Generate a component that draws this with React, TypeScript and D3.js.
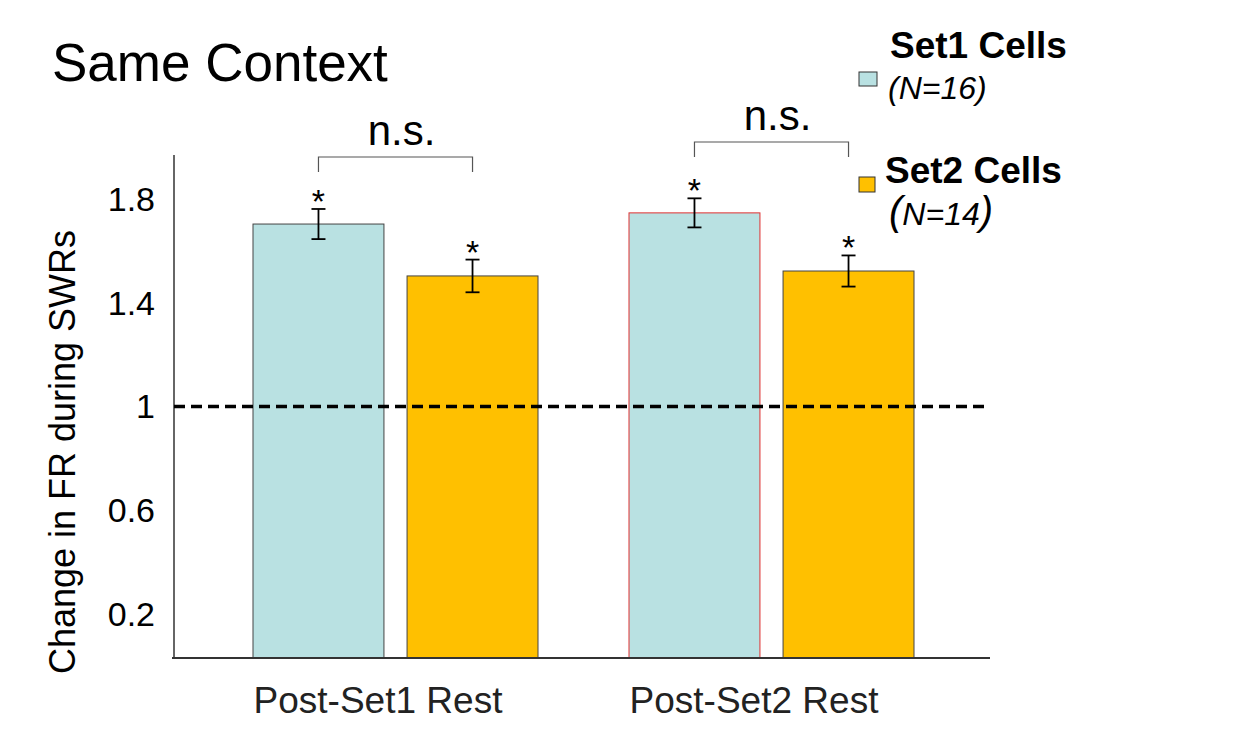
import React from "react";
import * as d3 from "d3";

const groups = ["Post-Set1 Rest", "Post-Set2 Rest"];
const series = ["Set1 Cells", "Set2 Cells"];
const seriesN = ["N=16", "N=14"];
const means = [
  [1.703, 1.503],
  [1.746, 1.522],
];
const sems = [
  [0.058, 0.063],
  [0.056, 0.06],
];
const yTicks = [0.2, 0.6, 1, 1.4, 1.8];
const colors = ["#b9e1e2", "#ffc000"];
const refLine = 1;

const W = 1249;
const H = 745;

export default function App() {
  const y = d3.scaleLinear().domain([0, 1.969]).range([666, 155]);
  const yBottom = 658;
  const x0 = d3.scaleBand<string>().domain(groups).range([207, 959]).padding(0);
  const x1 = d3
    .scaleBand<string>()
    .domain(series)
    .range([46, 331])
    .paddingInner(0.15)
    .paddingOuter(0);
  const font = "'Liberation Sans', Arial, sans-serif";
  const axisLeft = 174;
  const axisRight = 990;
  const bracketY = [157, 142];

  return (
    <svg width={W} height={H} style={{ position: "absolute", left: 0, top: 0 }} fontFamily={font}>
      <rect width={W} height={H} fill="#fff" />
      <text x={52} y={81} fontSize={53} fill="#000">Same Context</text>

      {/* axes */}
      <line x1={axisLeft} x2={axisLeft} y1={155} y2={yBottom} stroke="#333" strokeWidth={1.5} />
      {yTicks.map((t) => (
        <text key={t} x={155} y={y(t) + 12} textAnchor="end" fontSize={34}>
          {d3.format("")(t)}
        </text>
      ))}
      <text
        transform={`translate(75, 452) rotate(-90)`}
        textAnchor="middle"
        fontSize={36}
      >
        Change in FR during SWRs
      </text>

      {/* bars */}
      {groups.map((g, gi) => (
        <g key={g} transform={`translate(${x0(g)},0)`}>
          {series.map((s, si) => {
            const bx = x1(s)!;
            const bw = x1.bandwidth();
            const v = means[gi][si];
            const e = sems[gi][si];
            const cx = bx + bw / 2;
            const red = gi === 1 && si === 0;
            return (
              <g key={s}>
                <rect
                  x={bx}
                  y={y(v)}
                  width={bw}
                  height={yBottom - y(v)}
                  fill={colors[si]}
                  stroke={red ? "#e03030" : "#444"}
                  strokeWidth={1}
                />
                <line x1={cx} x2={cx} y1={y(v + e)} y2={y(v - e)} stroke="#000" strokeWidth={1.8} />
                <line x1={cx - 7} x2={cx + 7} y1={y(v + e)} y2={y(v + e)} stroke="#000" strokeWidth={1.8} />
                <line x1={cx - 7} x2={cx + 7} y1={y(v - e)} y2={y(v - e)} stroke="#000" strokeWidth={1.8} />
                <text x={cx} y={y(v + e) + 4} textAnchor="middle" fontSize={34}>*</text>
              </g>
            );
          })}
          {(() => {
            const c1 = x1(series[0])! + x1.bandwidth() / 2;
            const c2 = x1(series[1])! + x1.bandwidth() / 2;
            const by = bracketY[gi];
            return (
              <g>
                <path
                  d={`M${c1},${by + 15}V${by}H${c2}V${by + 15}`}
                  fill="none"
                  stroke="#555"
                  strokeWidth={1.2}
                />
                <text x={(c1 + c2) / 2 + 6} y={by - 12} textAnchor="middle" fontSize={42}>n.s.</text>
              </g>
            );
          })()}
          <text x={x0.bandwidth() / 2 - 17} y={713} textAnchor="middle" fontSize={37} fill="#222">
            {g}
          </text>
        </g>
      ))}

      {/* bottom axis */}
      <line x1={axisLeft - 2} x2={axisRight} y1={yBottom} y2={yBottom} stroke="#333" strokeWidth={2} />
      {/* reference line */}
      <line
        x1={axisLeft}
        x2={axisRight}
        y1={y(refLine)}
        y2={y(refLine)}
        stroke="#000"
        strokeWidth={3.5}
        strokeDasharray="11,6"
      />

      {/* legend */}
      <rect x={859} y={72} width={18} height={14} fill={colors[0]} stroke="#333" strokeWidth={1} />
      <text x={890} y={58} fontSize={37} fontWeight="bold">{series[0]}</text>
      <text x={888} y={99} fontSize={32} fontStyle="italic">({seriesN[0]})</text>
      <rect x={859} y={177} width={16} height={15} fill={colors[1]} stroke="#333" strokeWidth={1} />
      <text x={885} y={183} fontSize={37} fontWeight="bold">{series[1]}</text>
      <text x={889} y={225} fontStyle="italic">
        <tspan fontSize={40}>(</tspan>
        <tspan fontSize={32}>{seriesN[1]}</tspan>
        <tspan fontSize={40}>)</tspan>
      </text>
    </svg>
  );
}
